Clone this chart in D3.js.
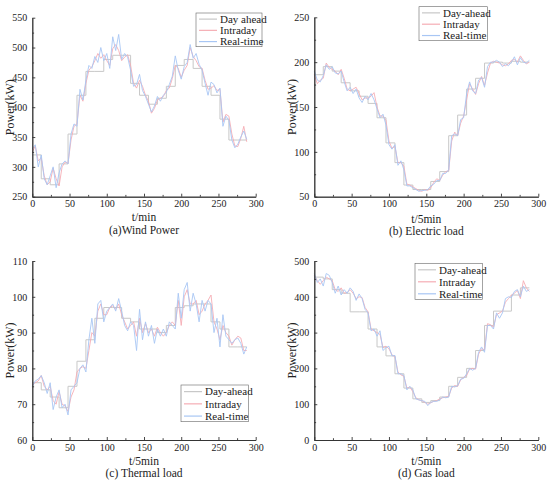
<!DOCTYPE html>
<html><head><meta charset="utf-8">
<script src="https://cdn.jsdelivr.net/npm/d3@7/dist/d3.min.js"></script>
<style>body{margin:0;background:#fff}svg{display:block}text{font-family:"Liberation Serif","Times New Roman",serif;fill:#222}</style>
</head><body><svg id="c" width="550" height="483"></svg>
<script>
// time grid for sampled noisy series (every 4 steps of 5 min)
const tSample = d3.range(0, 289, 4);
// hourly steps for day-ahead
const tHour = d3.range(0, 289, 12);

const windDA = [320,280,270,305,355,420,460,460,480,487,487,440,420,405,415,435,470,480,465,435,420,380,345,345];
const windID = [325,335,310,315,285,270,275,298,280,268,300,308,306,345,368,372,420,410,440,462,468,478,490,482,488,478,470,498,505,495,478,484,488,470,440,432,445,435,420,410,390,398,412,415,418,428,432,448,470,465,450,462,470,500,485,478,468,465,445,430,432,436,428,430,375,388,385,355,335,334,348,368,342];
const windRT = [330,337,300,320,280,270,285,300,265,290,305,310,305,355,372,368,430,412,445,470,465,485,475,500,478,490,465,518,495,522,480,490,484,462,435,438,455,428,418,405,392,402,418,410,420,425,438,452,486,462,447,468,475,505,482,490,472,462,440,420,442,438,424,432,368,385,378,345,332,338,350,360,346];

const elecDA = [186,195,190,177,168,162,154,138,110,88,63,58,58,67,78,118,141,170,182,199,200,199,201,200];
const elecID = [186,176,180,182,199,194,192,190,186,192,182,170,168,170,172,165,158,160,160,162,166,150,140,140,135,112,104,106,88,88,84,64,63,61,59,57,56,58,57,60,66,70,68,74,78,79,112,122,118,132,140,158,176,170,164,176,184,174,188,199,201,200,199,197,196,198,202,203,200,207,202,198,200];
const elecRT = [190,180,178,185,197,192,195,188,187,190,178,168,172,165,170,160,155,162,158,165,158,148,138,142,130,108,103,108,85,90,80,62,62,60,58,56,57,57,58,62,64,68,68,76,76,80,118,120,118,136,138,165,178,168,165,180,183,172,195,200,200,202,200,195,198,196,200,206,197,205,200,199,202];

const thermDA = [76,74,72,69,75,82,88,94,97,97,94,93,91,91,90,92,97,97.5,98,98,93,91,86,86];
const thermID = [75.5,76,76.5,78,75,74,75,71,70,73.5,70,69.5,68,72,74,79,80,80.5,80,85,90,89,96,98,95,95,97,97.5,96.5,98,95,93,91,92,93,89,94,90,92.5,90,91,89,91.5,90,89,90,92,93,92,99,92,100,102,98,98,99,95,96,98,99,100.5,93,91,88,92,90,89,86.5,88,89,88.5,85,85];
const thermRT = [75,76.5,77,78,76,73,76,68.5,72,74,69,70,67,74,75,76,80,81,79,88,94,87,98,99,93,96,97,98,96,99.5,96,92,90.5,93,92,85,96.5,88,93,89,92,87,91,89,91,89,93,92,91,101,94,102,104,96,101,98,93,99,96,99,98,90,94,86,95,89,88,87,88,88.5,87,84,86];

const gasDA = [455,450,420,410,358,358,310,260,235,185,145,115,105,110,120,150,175,200,250,320,360,360,405,425];
const gasID = [460,445,435,445,455,450,445,420,415,425,410,412,420,410,395,400,398,370,358,310,305,300,295,258,262,255,238,232,190,182,178,145,148,135,118,112,110,105,100,104,108,110,115,118,120,122,145,152,150,168,175,180,198,200,198,240,255,252,325,322,315,350,355,360,385,395,405,410,418,395,445,425,415];
const gasRT = [465,440,450,430,465,460,440,410,430,405,420,410,425,415,390,408,395,365,355,305,310,290,305,250,258,262,235,236,185,185,180,140,150,140,115,112,110,108,96,105,108,108,112,120,118,120,150,148,152,170,172,185,200,195,200,245,260,245,320,320,310,355,340,355,395,400,398,415,420,400,430,415,420];

const seriesNames = ["Day-ahead","Intraday","Real-time"];
const colors = ["#c8c8c8","#f5adb4","#a8c6f4"];

const svg = d3.select("#c");

const panels = [
  {da:windDA, id:windID, rt:windRT, y:[250,550], yt:d3.range(250,551,50),
   x0:32.3, x1:255.7, yTop:17.7, yBot:196.7, xt:"t/min", sub:"(a)Wind Power",
   xtY:221, subY:234, ylX:10, names:["Day ahead","Intraday","Real-time"],
   leg:[196,13,66,33.7]},
  {da:elecDA, id:elecID, rt:elecRT, y:[50,250], yt:d3.range(50,251,50),
   x0:314.3, x1:538.3, yTop:17.3, yBot:196.7, xt:"t/5min", sub:"(b) Electric load",
   xtY:222.5, subY:234.5, ylX:291.7, names:seriesNames,
   leg:[419,6.7,68.3,34]},
  {da:thermDA, id:thermID, rt:thermRT, y:[60,110], yt:d3.range(60,111,10),
   x0:32.3, x1:255.7, yTop:261, yBot:440, xt:"t/5min", sub:"(c) Thermal load",
   xtY:465, subY:476.5, ylX:10, names:seriesNames,
   leg:[181,385,67.3,36.7]},
  {da:gasDA, id:gasID, rt:gasRT, y:[0,500], yt:d3.range(0,501,100),
   x0:314.3, x1:538.3, yTop:261, yBot:440, xt:"t/5min", sub:"(d) Gas load",
   xtY:464.5, subY:477, ylX:291.7, names:seriesNames,
   leg:[415,263.3,67.3,36]}
];

panels.forEach(p => {
  const g = svg.append("g");
  const x = d3.scaleLinear().domain([0,300]).range([p.x0,p.x1]);
  const y = d3.scaleLinear().domain(p.y).range([p.yBot,p.yTop]);
  const yStep = p.yt[1]-p.yt[0];

  // data lines
  const daPts = tHour.map((t,i) => [t, p.da[Math.min(i, p.da.length-1)]]);
  const lineStep = d3.line().x(d=>x(d[0])).y(d=>y(d[1])).curve(d3.curveStepAfter);
  const line = d3.line().x(d=>x(d[0])).y(d=>y(d[1]));
  g.append("path").attr("d", lineStep(daPts)).attr("fill","none").attr("stroke",colors[0]).attr("stroke-width",1);
  g.append("path").attr("d", line(tSample.map((t,i)=>[t,p.id[i]]))).attr("fill","none").attr("stroke",colors[1]).attr("stroke-width",0.9);
  g.append("path").attr("d", line(tSample.map((t,i)=>[t,p.rt[i]]))).attr("fill","none").attr("stroke",colors[2]).attr("stroke-width",0.9);

  // axes with inward ticks
  const xAxis = d3.axisBottom(x).tickValues(d3.range(0,301,50)).tickSizeInner(-3).tickSizeOuter(0).tickPadding(3.5);
  const xMinor = d3.axisBottom(x).tickValues(d3.range(25,300,50)).tickSizeInner(-1.8).tickSizeOuter(0).tickFormat("");
  const yAxis = d3.axisLeft(y).tickValues(p.yt).tickSizeInner(-3).tickSizeOuter(0).tickPadding(5);
  const yMinor = d3.axisLeft(y).tickValues(p.yt.slice(0,-1).map(v=>v+yStep/2)).tickSizeInner(-1.8).tickSizeOuter(0).tickFormat("");
  [xAxis, xMinor].forEach(a => {
    const ag = g.append("g").attr("transform",`translate(0,${p.yBot})`).call(a);
    ag.selectAll("text").attr("font-size",10).style("font-family","Liberation Serif");
  });
  [yAxis, yMinor].forEach(a => {
    const ag = g.append("g").attr("transform",`translate(${p.x0},0)`).call(a);
    ag.selectAll("text").attr("font-size",10).style("font-family","Liberation Serif");
  });
  g.selectAll(".domain, .tick line").attr("stroke","#333").attr("stroke-width",0.9);

  // labels
  g.append("text").attr("x",(p.x0+p.x1)/2).attr("y",p.xtY).attr("text-anchor","middle").attr("font-size",11.5).text(p.xt);
  g.append("text").attr("x",(p.x0+p.x1)/2).attr("y",p.subY).attr("text-anchor","middle").attr("font-size",11.5).text(p.sub);
  g.append("text").attr("transform",`translate(${p.ylX+4},${(p.yTop+p.yBot)/2}) rotate(-90)`)
    .attr("text-anchor","middle").attr("font-size",12).text("Power(kW)");

  // legend
  const [lx,ly,lw,lh] = p.leg;
  const lg = g.append("g");
  lg.append("rect").attr("x",lx).attr("y",ly).attr("width",lw).attr("height",lh)
    .attr("fill","#fff").attr("stroke","#666").attr("stroke-width",0.6);
  p.names.forEach((n,i) => {
    const cy = ly + lh*(i+0.5)/3 + 0.5;
    lg.append("line").attr("x1",lx+3).attr("x2",lx+21).attr("y1",cy).attr("y2",cy)
      .attr("stroke",colors[i]).attr("stroke-width",1.2);
    lg.append("text").attr("x",lx+24).attr("y",cy+3.8).attr("font-size",11).text(n);
  });
});
</script></body></html>
